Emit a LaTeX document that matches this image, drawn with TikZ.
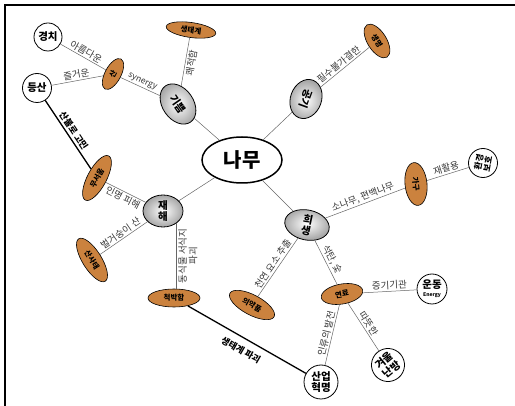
\documentclass[tikz,border=0pt]{standalone}
\usepackage{fontspec}
\setmainfont{Noto Sans CJK KR}
\usepackage{tikz}
\usetikzlibrary{shapes.geometric}
\definecolor{wood}{RGB}{203,130,62}
\definecolor{labelgray}{RGB}{55,55,55}

\begin{document}
\begin{tikzpicture}[x=1pt, y=-1pt,
  every node/.style={inner sep=1pt},
  hub/.style={ellipse, draw, line width=1.5pt, fill=white,
              minimum width=80pt, minimum height=46pt,
              font=\fontsize{20}{22}\selectfont\bfseries},
  ball/.style={ellipse, draw, thick, shading=radial, inner color=white,
               outer color=gray!70, minimum width=42pt, minimum height=31pt,
               inner sep=0pt, align=center,
               font=\fontsize{10.5}{11}\selectfont\bfseries},
  wood/.style={ellipse, draw, semithick, fill=wood, minimum width=46pt,
               minimum height=18pt, inner sep=0pt,
               font=\fontsize{7.5}{8}\selectfont\bfseries},
  leaf/.style={circle, draw, thick, fill=white, minimum size=29pt,
               inner sep=0pt, align=center,
               font=\fontsize{10.5}{11}\selectfont\bfseries},
  link/.style={draw=black!60, line width=0.5pt},
  strong/.style={draw=black, line width=1.3pt},
  lbl/.style={font=\fontsize{9.5}{10.5}\selectfont, text=labelgray,
              sloped, inner sep=1.5pt},
  strongann/.style={font=\fontsize{9}{10}\selectfont\bfseries,
                    sloped, inner sep=2pt}]
\useasboundingbox (0,0) rectangle (515,406);
\draw[line width=1.2pt] (5,406) -- (5,5) -- (515,5);

% centre and first ring
\node[hub] (namu) at (242,160) {나무};
\node[ball, rotate=-55, minimum width=44pt] (gippeum) at (178,104) {기쁨};
\node[ball, rotate=-110, minimum width=40pt] (gonggi) at (306,99) {공기};
\node[ball, minimum width=40pt, minimum height=32pt] (jaehae) at (163,211) {재\\해};
\node[ball, rotate=-12, minimum width=45pt, minimum height=30pt] (huisaeng) at (307,225) {희\\생};

% wooden ovals
\node[wood, rotate=-8, minimum width=50pt, minimum height=15pt] (saengtae) at (191,30) {생태계};
\node[wood, rotate=62, minimum width=34pt, minimum height=16pt] (san) at (113,74) {산};
\node[wood, rotate=-58, minimum width=38pt, minimum height=19pt] (saengmyeong) at (377,41) {생명};
\node[wood, rotate=62, minimum width=50pt, minimum height=19pt] (museoum) at (97,178) {무서움};
\node[wood, rotate=-58, minimum width=50pt, minimum height=19pt] (sansatae) at (92,260) {산사태};
\node[wood, minimum width=52pt] (cheokbak) at (174,298) {척박함};
\node[wood, rotate=-84, minimum width=43pt, minimum height=22pt] (gagu) at (416,184) {가구};
\node[wood, rotate=-28, minimum width=50pt, minimum height=20pt] (uiyak) at (252,305) {의약품};
\node[wood, rotate=10, minimum width=42pt, minimum height=20pt] (yeonryo) at (342,294) {연료};

% white circles
\node[leaf, minimum size=28pt] (gyeongchi) at (48,37) {경치};
\node[leaf] (deungsan) at (37,88) {등산};
\node[leaf, rotate=80, font=\fontsize{8.5}{9}\selectfont\bfseries] (hwangyeong) at (483,163) {환경\\보호};
\node[leaf, minimum size=30pt] (undong) at (432,289)
  {운동\\[-3pt]{\fontsize{5}{5}\selectfont Energy}};
\node[leaf, rotate=40, minimum size=33pt] (nanbang) at (388,365) {겨울\\난방};
\node[leaf, minimum size=34pt] (saneop) at (321,382) {산업\\혁명};

% connectors
\draw[link] (namu) -- (gippeum);
\draw[link] (namu) -- (gonggi);
\draw[link] (namu) -- (jaehae);
\draw[link] (namu) -- (huisaeng);
\draw[link] (gippeum) -- node[lbl, above, font=\fontsize{8.5}{9}\selectfont] {synergy} (san);
\draw[link] (san) -- node[lbl, above] {아름다운} (gyeongchi);
\draw[link] (san) -- node[lbl, above] {즐거운} (deungsan);
\draw[link] (gippeum) -- node[lbl, below] {쾌적함} (saengtae);
\draw[link] (gonggi) -- node[lbl, above, pos=0.45] {필수불가결한} (saengmyeong);
\draw[link] (jaehae) -- node[lbl, below] {인명 피해} (museoum);
\draw[link] (jaehae) -- node[lbl, above] {벌거숭이 산} (sansatae);
\draw[link] (cheokbak.north -| jaehae.-42) --
  node[lbl, below, align=center] {동식물 서식지\\파괴} (jaehae.-42);
\draw[link] (huisaeng) -- node[lbl, above] {소나무, 편백나무} (gagu);
\draw[link] (gagu) -- node[lbl, above] {재활용} (hwangyeong);
\draw[link] (uiyak) -- node[lbl, above] {천연 요소 추출} (huisaeng);
\draw[link] (huisaeng) -- node[lbl, above] {석탄, 숯} (yeonryo);
\draw[link] (yeonryo) -- node[lbl, above] {증기기관} (undong);
\draw[link] (yeonryo) -- node[lbl, above] {따뜻한} (nanbang);
\draw[link] (saneop) -- node[lbl, above] {인류의 발전} (yeonryo);
\draw[strong] (cheokbak) -- node[strongann, below=5pt] {생태계 파괴} (saneop);
\draw[strong] (deungsan) -- node[strongann, above] {산불로 고민} (museoum);
\end{tikzpicture}
\end{document}
